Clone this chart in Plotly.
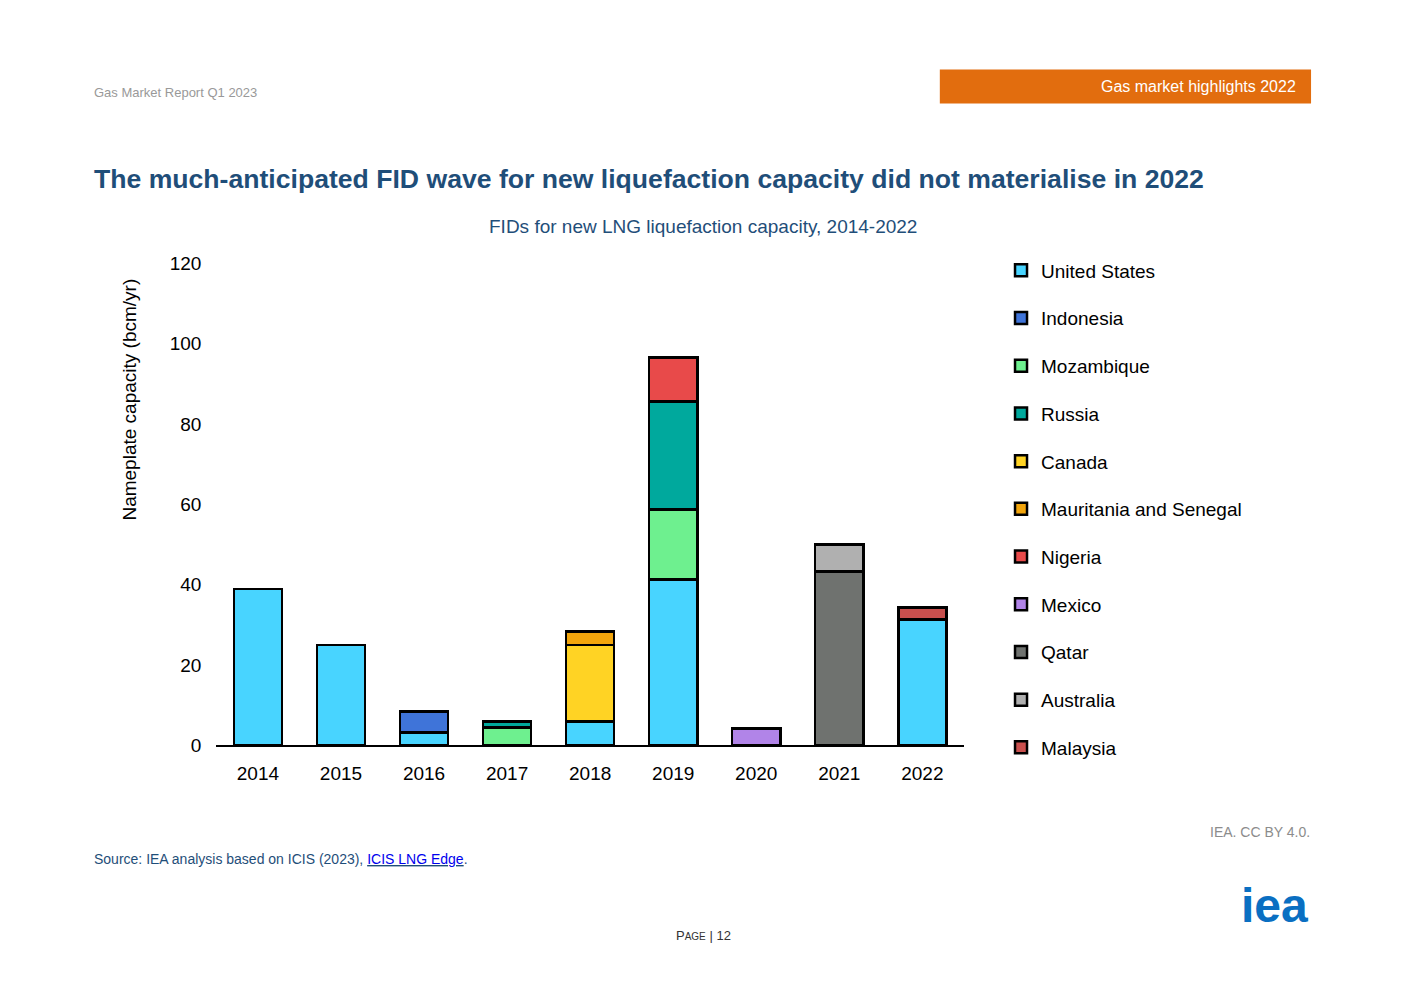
import plotly.graph_objects as go

years = ["2014","2015","2016","2017","2018","2019","2020","2021","2022"]
series = {
 "United States": [39, 25, 3.2, 0, 6, 41.3, 0, 0, 31.4],
 "Indonesia": [0, 0, 5.3, 0, 0, 0, 0, 0, 0],
 "Mozambique": [0, 0, 0, 4.5, 0, 17.4, 0, 0, 0],
 "Russia": [0, 0, 0, 1.5, 0, 26.9, 0, 0, 0],
 "Canada": [0, 0, 0, 0, 19, 0, 0, 0, 0],
 "Mauritania and Senegal": [0, 0, 0, 0, 3.4, 0, 0, 0, 0],
 "Nigeria": [0, 0, 0, 0, 0, 11, 0, 0, 0],
 "Mexico": [0, 0, 0, 0, 0, 0, 4.2, 0, 0],
 "Qatar": [0, 0, 0, 0, 0, 0, 0, 43.3, 0],
 "Australia": [0, 0, 0, 0, 0, 0, 0, 6.7, 0],
 "Malaysia": [0, 0, 0, 0, 0, 0, 0, 0, 3],
}
colors = ["#48D4FF","#3F74D9","#6EF08F","#00A99D","#FFD324","#F2A50C",
          "#E84A4A","#B184E8","#6F726F","#B0B0B0","#C9504E"]

def fx(x):
    x2 = x - (10 - (x - 94) * 4 / 1200)
    return x2 / 1403
def fy(y):
    y2 = y - (16 - (y - 86) * 16 / 746)
    return 1 - y2 / 992

fig = go.Figure()
for i, ((name, vals), c) in enumerate(zip(series.items(), colors)):
    fig.add_bar(x=years, y=[v if v else None for v in vals], name=name, marker_color=c,
                marker_line=dict(color="black", width=2.5), legendgroup=str(i))

fig.update_layout(
    barmode="stack", bargap=0.42, width=1403, height=992, plot_bgcolor="white", paper_bgcolor="white",
    font=dict(family="Liberation Sans, Arial", color="black"),
    margin=dict(l=0, r=0, t=0, b=0),
    xaxis=dict(domain=[fx(218), fx(963)], showline=True, linecolor="black", linewidth=2,
               tickfont=dict(size=19), ticks="", ticklabelstandoff=10),
    yaxis=dict(domain=[fy(745), fy(263)], range=[0,120], dtick=20, showgrid=False,
               tickfont=dict(size=19), ticklabelstandoff=14),
    legend=dict(x=fx(1000), y=fy(251), xanchor="left", yanchor="top", font=dict(size=19),
                tracegroupgap=20, itemwidth=30, traceorder="grouped"),
    showlegend=True,
)

fig.add_shape(type="rect", xref="paper", yref="paper", x0=fx(939), x1=fx(1309),
              y0=fy(103), y1=fy(69), fillcolor="#E26D0E", line_width=0)
ann = [
 (94, 92, "Gas Market Report Q1 2023", 13, "#999999", "left"),
 (1296, 86, "Gas market highlights 2022", 16, "white", "right"),
 (94, 178, "<b>The much-anticipated FID wave for new liquefaction capacity did not materialise in 2022</b>", 26.6, "#1F4E79", "left"),
 (703, 226, "FIDs for new LNG liquefaction capacity, 2014-2022", 19, "#1F4E79", "center"),
 (1310, 832, "IEA. CC BY 4.0.", 14, "#8C8C8C", "right"),
 (94, 859, "Source: IEA analysis based on ICIS (2023), <u><span style='color:#0000EE'>ICIS LNG Edge</span></u>.", 14, "#1F4E79", "left"),
 (703, 935, "P<span style='font-size:10px'>AGE</span> | 12", 13, "#333333", "center"),
 (1308, 905, "<b>iea</b>", 48, "#0A6FC2", "right"),
]
for x, y, t, s, c, a in ann:
    fig.add_annotation(x=fx(x), y=fy(y), xref="paper", yref="paper", text=t, showarrow=False,
                       xanchor=a, yanchor="middle", font=dict(size=s, color=c))
fig.add_annotation(x=fx(131), y=fy(399), xref="paper", yref="paper", text="Nameplate capacity (bcm/yr)",
                   showarrow=False, textangle=-90, font=dict(size=19), xanchor="center", yanchor="middle")
fig.write_html("out.html")
